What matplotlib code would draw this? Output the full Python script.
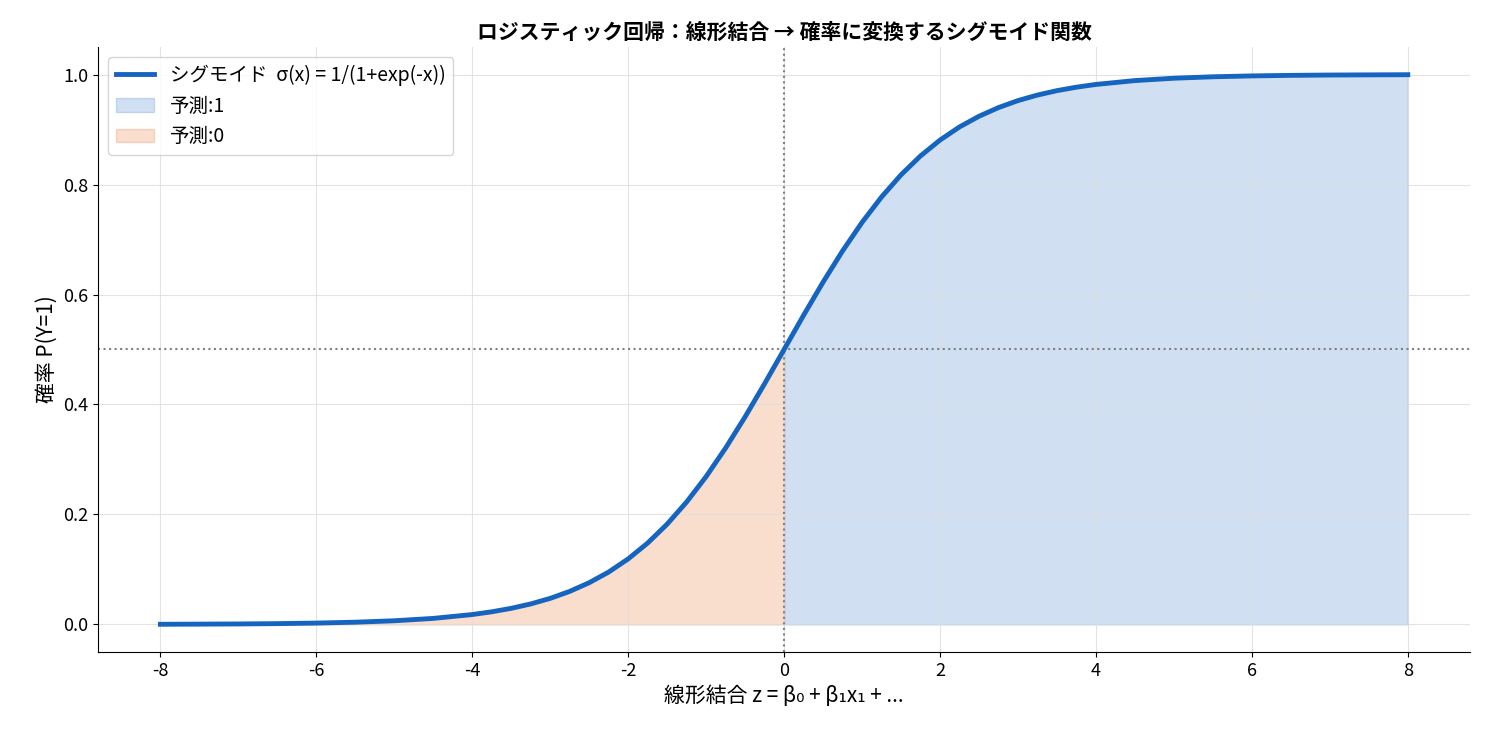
import matplotlib
matplotlib.use("Agg")
import matplotlib.pyplot as plt
import numpy as np

plt.rcParams['font.family'] = ['Noto Sans CJK JP', 'DejaVu Sans']

z = [-8, -7.5, -7, -6.5, -6, -5.5, -5, -4.5, -4, -3.75, -3.5, -3.25, -3, -2.75, -2.5,
     -2.25, -2, -1.75, -1.5, -1.25, -1, -0.75, -0.5, -0.25, 0,
     0.25, 0.5, 0.75, 1, 1.25, 1.5, 1.75, 2, 2.25, 2.5, 2.75, 3, 3.25, 3.5, 3.75, 4,
     4.5, 5, 5.5, 6, 6.5, 7, 7.5, 8]
p = [0.0003, 0.0006, 0.0009, 0.0015, 0.0025, 0.0041, 0.0067, 0.0110, 0.0180, 0.0230,
     0.0293, 0.0373, 0.0474, 0.0601, 0.0759, 0.0953, 0.1192, 0.1480, 0.1824, 0.2227,
     0.2689, 0.3208, 0.3775, 0.4378, 0.5,
     0.5622, 0.6225, 0.6792, 0.7311, 0.7773, 0.8176, 0.8520, 0.8808, 0.9047, 0.9241,
     0.9399, 0.9526, 0.9627, 0.9707, 0.9770, 0.9820,
     0.9890, 0.9933, 0.9959, 0.9975, 0.9985, 0.9991, 0.9994, 0.9997]
xticks = [-8, -6, -4, -2, 0, 2, 4, 6, 8]
yticks = [0.0, 0.2, 0.4, 0.6, 0.8, 1.0]

z = np.array(z); p = np.array(p)
fig, ax = plt.subplots(figsize=(14.85, 7.35), dpi=100)
fig.subplots_adjust(left=0.066, right=0.99, top=0.936, bottom=0.113)

ax.plot(z, p, color='#1565C0', lw=3.5, label='シグモイド  σ(x) = 1/(1+exp(-x))', zorder=3)
ax.fill_between(z, 0, p, where=z >= 0, facecolor='#1565C0', alpha=0.2,
                edgecolor='#1565C0', lw=1, label='予測:1')
ax.fill_between(z, 0, p, where=z <= 0, facecolor='#E8651E', alpha=0.22,
                edgecolor='#E8651E', lw=1, label='予測:0')
ax.axhline(0.5, color='gray', ls=':', lw=1.5)
ax.axvline(0, color='gray', ls=':', lw=1.5)

ax.set_xticks(xticks); ax.set_yticks(yticks)
ax.set_xticklabels([str(t) for t in xticks])
ax.set_yticklabels([f'{t:.1f}' for t in yticks])
ax.tick_params(labelsize=13)
ax.set_xlim(-8.8, 8.8); ax.set_ylim(-0.05, 1.05)
ax.grid(True, color='#dddddd', lw=0.8, alpha=0.8)
ax.spines['top'].set_visible(False); ax.spines['right'].set_visible(False)
ax.set_xlabel('線形結合 z = β₀ + β₁x₁ + ...', fontsize=15)
ax.set_ylabel('確率 P(Y=1)', fontsize=15)
ax.set_title('ロジスティック回帰：線形結合 → 確率に変換するシグモイド関数', fontsize=15, fontweight='bold')
ax.legend(loc='upper left', fontsize=14)
fig.savefig('out.png')
